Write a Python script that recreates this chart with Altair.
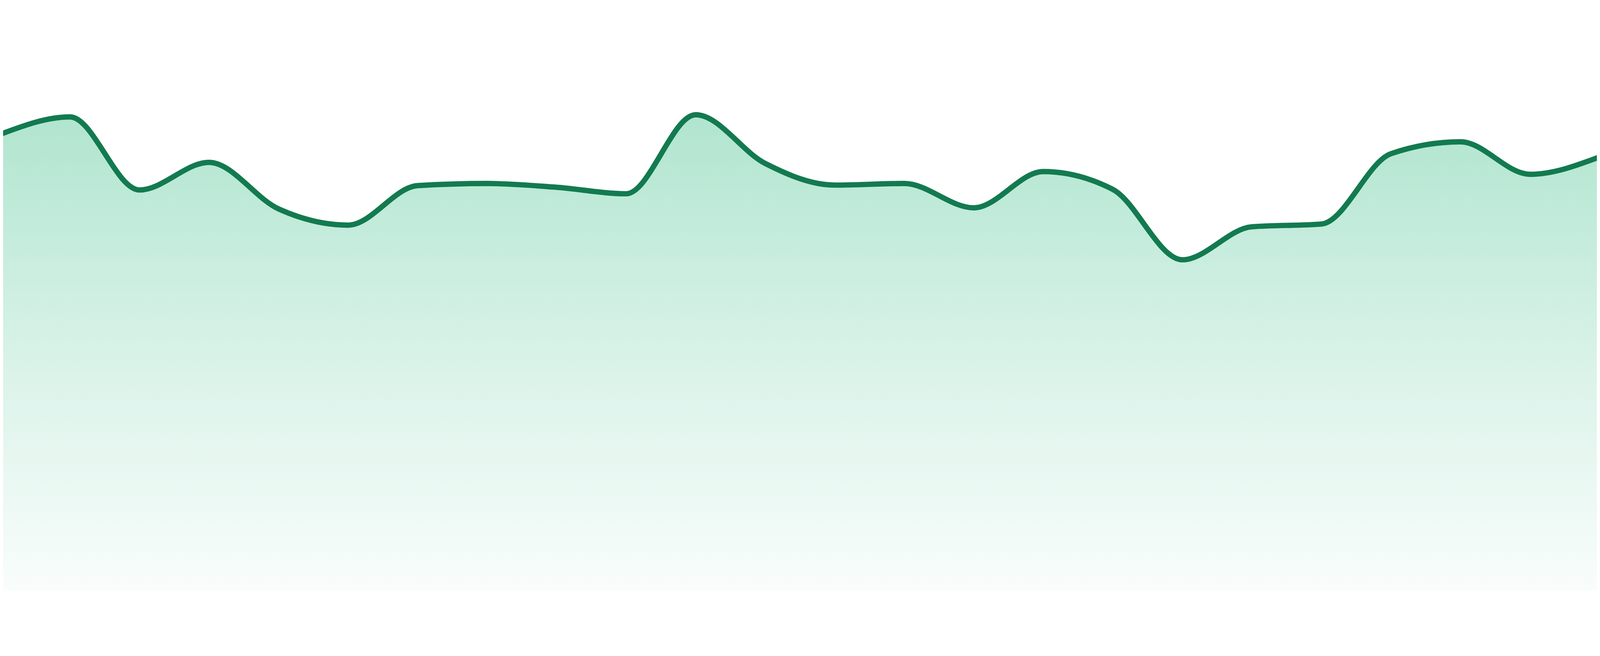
import altair as alt
import pandas as pd

# Data (24 evenly spaced samples)
idx = list(range(24))
values = [84.4, 87.6, 74.1, 79.2, 70.6, 67.6, 74.9, 75.3, 74.6, 73.4, 88.0, 79.0,
          75.0, 75.3, 70.8, 77.5, 74.2, 61.2, 67.3, 67.8, 80.8, 83.0, 77.0, 80.2]

df = pd.DataFrame({"i": idx, "v": values})

LINE = "#137a50"
step = 4800 / 23.0
x_scale = alt.Scale(domain=[8 / step, 4792 / step], nice=False, zero=False)
y_scale = alt.Scale(domain=[0, 100], nice=False)

gradient = alt.Gradient(
    gradient="linear",
    x1=0, y1=0, x2=0, y2=1,
    stops=[
        alt.GradientStop(color="#b0e5cf", offset=0),
        alt.GradientStop(color="#d8f2e8", offset=0.5),
        alt.GradientStop(color="#f9fdfb", offset=1),
    ],
)

base = alt.Chart(df).encode(
    x=alt.X("i:Q", scale=x_scale, axis=None),
    y=alt.Y("v:Q", scale=y_scale, axis=None),
)

area = base.mark_area(interpolate="monotone", color=gradient, clip=True)
line = base.mark_line(interpolate="monotone", color=LINE, strokeWidth=16, clip=True)

chart = (
    alt.layer(area, line)
    .properties(width=4784, height=1625, padding=0, background="white")
    .configure_view(stroke=None)
)

chart.save("out.html", embed_options={"renderer": "svg", "actions": False})
